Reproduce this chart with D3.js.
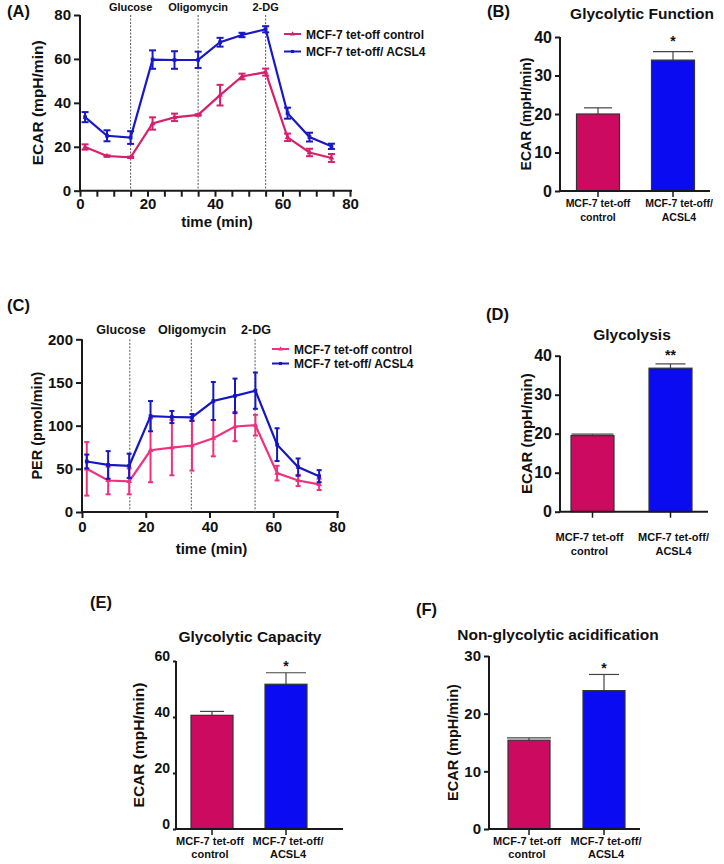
<!DOCTYPE html>
<html><head><meta charset="utf-8">
<script src="https://cdn.jsdelivr.net/npm/d3@7"></script>
<style>
body{margin:0;background:#fff;}
svg{font-family:"Liberation Sans",Arial,sans-serif;font-weight:bold;}
</style></head><body>
<svg id="c" width="724" height="864"></svg>
<script>
// ---------- DATA ----------
const seriesNames = ["MCF-7 tet-off control", "MCF-7 tet-off/ ACSL4"];
const injections = ["Glucose", "Oligomycin", "2-DG"];

// Panel A (ECAR)
const timeA = [1.5, 8, 15, 21.5, 28, 35, 41.5, 48, 55, 61.5, 68, 74.5];
const injectTimeA = [15, 35, 55];
const ecarControl = [19.9, 15.8, 15.2, 30.6, 33.4, 34.5, 43.5, 52, 54, 24.3, 17.4, 14.9];
const ecarControlErr = [1.2, 0.3, 0.3, 2.8, 1.7, 0.3, 4.7, 1.3, 1.6, 1.7, 1.7, 1.8];
const ecarACSL4 = [33.5, 25, 24.2, 59.7, 59.5, 59.6, 67.6, 70.9, 73.5, 35.3, 24.4, 20.2];
const ecarACSL4Err = [2.3, 2.5, 2.9, 4.2, 4, 3.7, 2, 1, 1.4, 2.5, 2, 1.2];
const ticksA_x = [0, 20, 40, 60, 80];
const ticksA_y = [0, 20, 40, 60, 80];

// Panel C (PER)
const timeC = [1.5, 8.2, 14.8, 21.5, 28.2, 34.5, 41.2, 48, 54.4, 61.2, 67.8, 74.4];
const injectTimeC = [15, 34.3, 54.3];
const perControl = [50, 36.5, 35.5, 71.5, 74.5, 77, 85.5, 99, 100.5, 45, 36.5, 32];
const perControlErr = [31, 16, 15, 37, 32, 29, 21, 17, 12, 8.5, 6.5, 6.5];
const perACSL4 = [58.5, 54.5, 53.5, 111, 110, 109.5, 128.5, 134.5, 140.5, 78, 52, 41.5];
const perACSL4Err = [8, 16, 14, 17.5, 7, 4, 22, 20, 21, 19, 10, 7];
const ticksC_x = [0, 20, 40, 60, 80];
const ticksC_y = [0, 50, 100, 150, 200];

// Bar panels
const barCategories = [["MCF-7 tet-off", "control"], ["MCF-7 tet-off/", "ACSL4"]];
const glycolyticFunction = [20, 34];        const glycolyticFunctionErr = [1.6, 2.2];
const glycolysis = [19.5, 36.8];            const glycolysisErr = [0.4, 1.1];
const glycolyticCapacity = [40.6, 51.7];    const glycolyticCapacityErr = [1.4, 4.1];
const nonGlycolytic = [15.4, 24];           const nonGlycolyticErr = [0.4, 2.8];
const sigB = "*", sigD = "**", sigE = "*", sigF = "*";
const ticksB = [0, 10, 20, 30, 40];
const ticksD = [0, 10, 20, 30, 40];
const ticksE = [0, 20, 40, 60];
const ticksF = [0, 10, 20, 30];

// ---------- DRAW ----------
const svg = d3.select("#c");
const AXC = "#1a1a1a";

function text(x, y, s, size, anchor) {
  return svg.append("text").attr("x", x).attr("y", y).attr("font-size", size)
    .attr("text-anchor", anchor || "start").attr("fill", "#111").text(s);
}
function vtitle(cx, cy, s, size) {
  svg.append("text").attr("transform", `translate(${cx},${cy}) rotate(-90)`)
    .attr("text-anchor", "middle").attr("dominant-baseline", "central")
    .attr("font-size", size).attr("fill", "#111").text(s);
}
function styleAxis(g, size) {
  g.selectAll("path,line").attr("stroke", AXC).attr("stroke-width", 2);
  g.selectAll("text").attr("font-size", size).attr("font-family", "Liberation Sans,Arial,sans-serif")
    .attr("font-weight", "bold").attr("fill", "#111");
}

function linePanel(o) {
  const x = d3.scaleLinear().domain([0, 80]).range([o.x0, o.x1]);
  const y = d3.scaleLinear().domain(o.yDomain).range([o.y0, o.y1]);
  const gx = svg.append("g").attr("transform", `translate(0,${o.y0})`)
    .call(d3.axisBottom(x).tickValues(o.xMinor).tickSize(6).tickPadding(o.xPad)
      .tickFormat(d => o.xTicks.includes(d) ? d : "").tickSizeOuter(0));
  gx.select(".domain").attr("d", `M${o.x0},0H${o.x1 + 2}`);
  styleAxis(gx, o.tickSize);
  const gy = svg.append("g").attr("transform", `translate(${o.x0},0)`)
    .call(d3.axisLeft(y).tickValues(o.yTicks).tickSize(6).tickSizeOuter(0));
  styleAxis(gy, o.tickSize);
  gy.select(".domain").attr("d", `M0,${o.y0}V${o.y1}`);
  o.inject.forEach((t, i) => {
    svg.append("line").attr("x1", x(t)).attr("x2", x(t)).attr("y1", o.y1).attr("y2", o.y0)
      .attr("stroke", "#555").attr("stroke-width", 1).attr("stroke-dasharray", "2,1.5");
    text(o.annX ? o.annX[i] : x(t), o.annY, injections[i], o.annSize, "middle");
  });
  const series = [
    {v: o.ctl, e: o.ctlErr, c: o.pink, m: "tri"},
    {v: o.acs, e: o.acsErr, c: o.blue, m: "sq"}
  ];
  [0, 1].forEach(si => {
    const s = series[si];
    const g = svg.append("g");
    s.v.forEach((v, i) => {
      const xx = x(o.time[i]);
      g.append("line").attr("x1", xx).attr("x2", xx).attr("y1", y(v - s.e[i])).attr("y2", y(v + s.e[i]))
        .attr("stroke", s.c).attr("stroke-width", o.ebW);
      [v - s.e[i], v + s.e[i]].forEach(w => g.append("line").attr("x1", xx - o.cap).attr("x2", xx + o.cap)
        .attr("y1", y(w)).attr("y2", y(w)).attr("stroke", s.c).attr("stroke-width", o.ebW));
    });
    g.append("path").datum(s.v.map((v, i) => [o.time[i], v]))
      .attr("d", d3.line().x(d => x(d[0])).y(d => y(d[1])))
      .attr("fill", "none").attr("stroke", s.c).attr("stroke-width", 2.2);
    s.v.forEach((v, i) => {
      const sym = s.m === "sq" ? d3.symbolSquare : d3.symbolTriangle;
      g.append("path").attr("d", d3.symbol().type(sym).size(14)())
        .attr("transform", `translate(${x(o.time[i])},${y(v)})`).attr("fill", s.c);
    });
  });
  [[o.pink, "tri"], [o.blue, "sq"]].forEach((d, i) => {
    const ly = o.legY[i];
    svg.append("line").attr("x1", o.legX).attr("x2", o.legX + 17).attr("y1", ly).attr("y2", ly)
      .attr("stroke", d[0]).attr("stroke-width", 2);
    svg.append("path").attr("d", d3.symbol().type(d[1] === "sq" ? d3.symbolSquare : d3.symbolTriangle).size(10)())
      .attr("transform", `translate(${o.legX + 8.5},${ly})`).attr("fill", d[0]);
    text(o.legX + 22, ly + 4.5, seriesNames[i], 12);
  });
  text(o.labX, o.labY, o.label, 16.5);
  text((o.x0 + o.x1) / 2 + 2, o.xTitleY, "time (min)", 15, "middle");
  vtitle(o.yTitleX, (o.y0 + o.y1) / 2, o.yTitle, o.yTitleSize);
}

linePanel({
  x0: 80, x1: 350, y0: 190.7, y1: 15, yDomain: [0, 80],
  xTicks: ticksA_x, xMinor: d3.range(0, 81, 5), yTicks: ticksA_y, tickSize: 15, xPad: 1.5,
  time: timeA, inject: injectTimeA, annY: 11, annSize: 11,
  ctl: ecarControl, ctlErr: ecarControlErr, acs: ecarACSL4, acsErr: ecarACSL4Err,
  pink: "#d6206e", blue: "#1818c8", ebW: 2, cap: 3.5,
  legX: 284, legY: [34, 51.5],
  label: "(A)", labX: 7, labY: 17,
  xTitleY: 227, yTitleX: 37, yTitle: "ECAR (mpH/min)", yTitleSize: 15.5
});

linePanel({
  x0: 82, x1: 337, y0: 512, y1: 339.3, yDomain: [0, 200],
  xTicks: ticksC_x, xMinor: ticksC_x, yTicks: ticksC_y, tickSize: 15, xPad: 3,
  time: timeC, inject: injectTimeC, annY: 334, annSize: 12.5, annX: [121, 192, 256],
  ctl: perControl, ctlErr: perControlErr, acs: perACSL4, acsErr: perACSL4Err,
  pink: "#f0317f", blue: "#1616c4", ebW: 2, cap: 2.5,
  legX: 272, legY: [349, 363.5],
  label: "(C)", labX: 7, labY: 311,
  xTitleY: 554, yTitleX: 37, yTitle: "PER (pmol/min)", yTitleSize: 14.5
});

function barPanel(o) {
  const y = d3.scaleLinear().domain(o.yDomain).range([o.y0, o.y1]);
  const x = d3.scaleOrdinal().domain([0, 1]).range(o.centers);
  const cols = ["#cc0a5f", "#0b0bf2"];
  o.vals.forEach((v, i) => {
    const cx = x(i);
    svg.append("line").attr("x1", cx).attr("x2", cx).attr("y1", y(v)).attr("y2", y(v + o.err[i]))
      .attr("stroke", "#444").attr("stroke-width", 1.2);
    svg.append("line").attr("x1", cx - o.capW[i]).attr("x2", cx + o.capW[i])
      .attr("y1", y(v + o.err[i])).attr("y2", y(v + o.err[i])).attr("stroke", "#444").attr("stroke-width", 1.2);
    svg.append("rect").attr("x", cx - o.bw / 2).attr("width", o.bw)
      .attr("y", y(v)).attr("height", o.y0 - y(v))
      .attr("fill", cols[i]).attr("stroke", "#333").attr("stroke-width", 1.2);
  });
  const gy = svg.append("g").attr("transform", `translate(${o.x0},0)`)
    .call(d3.axisLeft(y).tickValues(o.ticks).tickSize(o.tickLen).tickSizeOuter(0));
  styleAxis(gy, o.tickFont);
  gy.select(".domain").attr("d", `M0,${o.y0}V${o.y1}`);
  if (o.labShift) gy.selectAll("text").attr("dy", o.labShift);
  const gx = svg.append("g").attr("transform", `translate(0,${o.y0})`);
  gx.append("line").attr("x1", o.x0).attr("x2", o.xEnd).attr("stroke", AXC).attr("stroke-width", 2);
  o.centers.forEach((c, i) => {
    gx.append("line").attr("x1", c).attr("x2", c).attr("y1", 0).attr("y2", 6).attr("stroke", AXC).attr("stroke-width", 1.5);
    barCategories[i].forEach((s, j) => text(c + o.catDx[i], o.catY[j], s, o.catFont, "middle"));
  });
  text(o.titleX, o.titleY, o.title, 15.5, "middle");
  text(o.labX, o.labY, o.label, 16.5);
  text(o.centers[1], o.sigY, o.sig, 14, "middle");
  vtitle(o.yTitleX, (o.y0 + o.y1) / 2, "ECAR (mpH/min)", o.yTitleSize);
}

barPanel({
  x0: 560, xEnd: 710, y0: 191, y1: 37, yDomain: [0, 40], ticks: ticksB, tickLen: 5, tickFont: 16,
  centers: [598, 673], bw: 43, vals: glycolyticFunction, err: glycolyticFunctionErr, capW: [14, 20],
  catY: [207, 221], catFont: 10.5, catDx: [0, 6],
  title: "Glycolytic Function", titleX: 642, titleY: 19, label: "(B)", labX: 487, labY: 17,
  sig: sigB, sigY: 46, yTitleX: 526, yTitleSize: 14
});

barPanel({
  x0: 560, xEnd: 708, y0: 511.7, y1: 355.7, yDomain: [0, 40], ticks: ticksD, tickLen: 5, tickFont: 16,
  centers: [592.5, 670.5], bw: 43, vals: glycolysis, err: glycolysisErr, capW: [21, 15],
  catY: [541, 555], catFont: 11, catDx: [-3, 3],
  title: "Glycolysis", titleX: 632, titleY: 340, label: "(D)", labX: 486, labY: 320,
  sig: sigD, sigY: 360, yTitleX: 526, yTitleSize: 15
});

barPanel({
  x0: 176, xEnd: 343, y0: 829, y1: 661, yDomain: [0, 60], ticks: ticksE, tickLen: 3, tickFont: 14, labShift: "-0.05em",
  centers: [212, 286], bw: 42, vals: glycolyticCapacity, err: glycolyticCapacityErr, capW: [12, 20],
  catY: [845, 858], catFont: 11, catDx: [-2, 2],
  title: "Glycolytic Capacity", titleX: 250, titleY: 642, label: "(E)", labX: 90, labY: 608,
  sig: sigE, sigY: 671, yTitleX: 138, yTitleSize: 15.5
});

barPanel({
  x0: 489, xEnd: 640, y0: 829, y1: 656, yDomain: [0, 30], ticks: ticksF, tickLen: 5, tickFont: 15,
  centers: [529, 604], bw: 42, vals: nonGlycolytic, err: nonGlycolyticErr, capW: [22, 15],
  catY: [845, 858], catFont: 11, catDx: [-2, 2],
  title: "Non-glycolytic acidification", titleX: 558, titleY: 640, label: "(F)", labX: 416, labY: 615,
  sig: sigF, sigY: 673, yTitleX: 453, yTitleSize: 14.5
});
</script>
</body></html>
